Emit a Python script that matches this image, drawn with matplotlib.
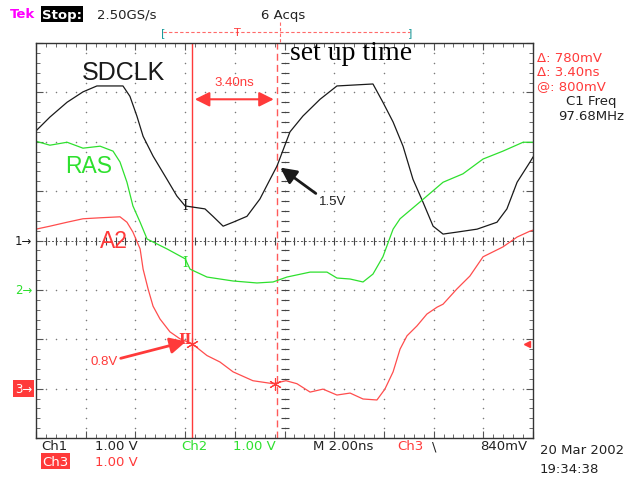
import numpy as np
import matplotlib
matplotlib.use('Agg')
from matplotlib import pyplot as plt

# time in ns (2 ns/div, 10 div), level in screen divisions (1 V/div)
sdclk_t = [0, 0.56, 1.25, 1.89, 2.45, 3.50, 3.78, 4.06, 4.31, 4.71, 5.27, 5.67, 6.00, 6.80, 7.12,
           7.53, 7.93, 8.49, 9.01, 9.42, 9.70, 10.22, 10.74, 11.43, 12.11, 13.56, 13.96, 14.37,
           14.77, 15.17, 15.57, 15.98, 16.38, 16.94, 17.75, 18.55, 18.95, 19.36, 19.88, 20.0]
sdclk_v = [2.22, 2.50, 2.80, 3.01, 3.13, 3.13, 2.92, 2.52, 2.11, 1.71, 1.24, 0.90, 0.70, 0.64, 0.49,
           0.29, 0.37, 0.49, 0.84, 1.24, 1.51, 2.20, 2.52, 2.86, 3.13, 3.17, 2.80, 2.40,
           1.91, 1.24, 0.78, 0.29, 0.13, 0.17, 0.23, 0.37, 0.64, 1.18, 1.59, 1.69]

ras_t = [0, 0.56, 1.25, 1.89, 2.58, 3.10, 3.38, 3.66, 3.90, 4.19, 4.47, 5.27, 6.00, 6.20, 6.88,
         7.93, 8.89, 9.54, 10.10, 11.03, 11.71, 12.11, 12.64, 13.16, 13.56, 13.96, 14.37, 14.65,
         15.45, 16.38, 17.18, 17.99, 18.79, 19.60, 20.0]
ras_v = [2.01, 1.93, 1.99, 1.87, 1.91, 1.81, 1.59, 1.18, 0.70, 0.37, 0.03, -0.17, -0.37, -0.58, -0.74,
         -0.82, -0.86, -0.84, -0.74, -0.64, -0.64, -0.76, -0.78, -0.84, -0.68, -0.33, 0.23, 0.44,
         0.78, 1.18, 1.35, 1.65, 1.81, 1.99, 1.99]

a2_t = [0, 0.56, 1.25, 1.89, 2.58, 3.38, 3.66, 3.90, 4.19, 4.31, 4.51, 4.71, 4.99, 5.39, 5.79,
        6.28, 6.88, 7.40, 7.93, 8.73, 9.54, 10.06, 10.50, 11.03, 11.55, 12.11, 12.64, 13.16,
        13.72, 14.04, 14.37, 14.65, 14.93, 15.33, 15.73, 16.14, 16.38, 16.94, 17.46, 17.99,
        18.79, 19.36, 19.88, 20.0]
a2_v = [0.23, 0.29, 0.37, 0.44, 0.46, 0.48, 0.37, 0.17, -0.17, -0.58, -0.98, -1.33, -1.59, -1.85, -1.99,
        -2.09, -2.33, -2.46, -2.66, -2.84, -2.90, -2.84, -2.90, -3.07, -3.01, -3.13, -3.09, -3.21,
        -3.23, -3.01, -2.66, -2.20, -1.93, -1.73, -1.49, -1.35, -1.29, -0.98, -0.72, -0.33,
        -0.13, 0.07, 0.19, 0.21]

cursor1_t = 6.28
cursor2_t = 9.68
ch_levels = [0, -1, -3]   # ground markers ch1, ch2, ch3
trig_level = -2.1

BLACK = '#1a1a1a'
GREEN = '#2ee02e'
RED = '#ff3a3a'
GREY = '#7a7a7a'

fig = plt.figure(figsize=(6.44, 4.81), dpi=100)
ax = fig.add_axes([36 / 644, 42 / 481, 497 / 644, 395 / 481])
ax.set_xlim(0, 20)
ax.set_ylim(-4, 4)

# graticule dots
for xg in np.arange(2, 20, 2):
    ys = np.arange(-4, 4.01, 0.2)
    ax.plot([xg] * len(ys), ys, ls='none', marker='o', ms=1.1, color=GREY, mec='none')
for yg in np.arange(-3, 4, 1):
    xs = np.arange(0, 20.01, 0.4)
    ax.plot(xs, [yg] * len(xs), ls='none', marker='o', ms=1.1, color=GREY, mec='none')
# center axes with crosses
xs = np.arange(0, 20.01, 0.4)
ax.plot(xs, [0] * len(xs), ls='none', marker='|', ms=6, mew=0.8, color='#444')
ax.plot([0, 20], [0, 0], ls=(0, (2, 2)), lw=0.7, color='#555')
ys = np.arange(-4, 4.01, 0.2)
ax.plot([10] * len(ys), ys, ls='none', marker='_', ms=6, mew=0.8, color='#444')

for s in ax.spines.values():
    s.set_color('#333')
    s.set_linewidth(1.0)
ax.set_xticks(np.arange(0, 20.01, 2))
ax.set_xticks(np.arange(0, 20.01, 0.4), minor=True)
ax.set_yticks(np.arange(-4, 4.01, 1))
ax.set_yticks(np.arange(-4, 4.01, 0.2), minor=True)
ax.tick_params(which='both', direction='in', top=True, right=True, labelbottom=False,
               labelleft=False, color='#555')
ax.tick_params(which='major', length=5, width=0.8)
ax.tick_params(which='minor', length=3, width=0.6)

# cursors
ax.axvline(cursor1_t, color=RED, lw=1.0)
ax.axvline(cursor2_t, color='#ff5a5a', lw=1.0, ls=(0, (5, 3)))

# traces
ax.plot(sdclk_t, sdclk_v, color=BLACK, lw=0.9)
ax.plot(ras_t, ras_v, color=GREEN, lw=0.9)
ax.plot(a2_t, a2_v, color='#ff4d4d', lw=0.9)

# cursor readout markers
ax.text(6.0, 0.72, 'I', color=BLACK, family='DejaVu Serif', fontsize=10, ha='center', va='center')
ax.text(6.0, -0.44, 'I', color=GREEN, family='DejaVu Serif', fontsize=10, ha='center', va='center')
ax.text(6.0, -2.0, 'II', color=RED, family='DejaVu Serif', fontsize=10, ha='center', va='center',
        fontweight='bold')
ax.plot([cursor1_t, 9.6], [-2.09, -2.90], ls='none', marker=(6, 2, 0), ms=9, mew=0.8, color=RED)

# labels
ax.text(1.85, 3.41, 'SDCLK', color=BLACK, family='Liberation Sans', fontsize=18, va='center')
ax.text(1.17, 1.51, 'RAS', color=GREEN, family='Liberation Sans', fontsize=16.5, va='center')
ax.text(2.58, -0.01, 'A2', color=RED, family='Liberation Sans', fontsize=16.5, va='center')

ax.annotate('', xy=(cursor1_t, 2.86), xytext=(cursor2_t, 2.86),
            arrowprops=dict(arrowstyle='<|-|>', color=RED, lw=1.5, mutation_scale=22))
ax.text(8.0, 3.21, '3.40ns', color=RED, family='Liberation Sans', fontsize=9.5,
        ha='center', va='center')

ax.annotate('', xy=(9.74, 1.51), xytext=(11.35, 0.92),
            arrowprops=dict(arrowstyle='-|>', color=BLACK, lw=2, mutation_scale=24))
ax.text(11.38, 0.80, '1.5V', color='#222', family='Liberation Sans', fontsize=9.5, va='center')

ax.annotate('', xy=(6.15, -2.03), xytext=(3.3, -2.40),
            arrowprops=dict(arrowstyle='-|>', color=RED, lw=2, mutation_scale=24))
ax.text(3.28, -2.44, '0.8V', color=RED, family='Liberation Sans', fontsize=9.5,
        ha='right', va='center')

# channel ground markers
ax.text(-0.15, ch_levels[0], '1\u2192', color=BLACK, fontsize=8.5, ha='right', va='center')
ax.text(-0.15, ch_levels[1], '2\u2192', color=GREEN, fontsize=8.5, ha='right', va='center')
ax.text(-0.15, ch_levels[2], '3\u2192', color='white', fontsize=8.5, ha='right', va='center',
        bbox=dict(boxstyle='square,pad=0.15', fc=RED, ec='none'))
ax.plot([19.75], [trig_level], marker='<', ms=5, color=RED, clip_on=False)

# header
fs = 9.5
fig.text(10 / 644, 1 - 15 / 481, 'Tek', color='#ff00ff', fontsize=fs, fontweight='bold', va='center')
fig.text(42 / 644, 1 - 15 / 481, 'Stop:', color='white', fontsize=fs, fontweight='bold', va='center',
         bbox=dict(boxstyle='square,pad=0.1', fc='black', ec='none'))
fig.text(97 / 644, 1 - 15 / 481, '2.50GS/s', color='#222', fontsize=fs, va='center')
fig.text(261 / 644, 1 - 15 / 481, '6 Acqs', color='#222', fontsize=fs, va='center')

bar_y = 1 - 33 / 481
fig.add_artist(plt.Line2D([163 / 644, 410 / 644], [bar_y, bar_y], color='#ff6a6a', lw=0.8,
                          ls=(0, (3, 2))))
fig.text(163 / 644, bar_y, '[', color='#1a9a9a', fontsize=8, ha='center', va='center')
fig.text(410 / 644, bar_y, ']', color='#1a9a9a', fontsize=8, ha='center', va='center')
fig.text(237 / 644, bar_y, 'T', color=RED, fontsize=8, ha='center', va='center')
fig.add_artist(plt.Line2D([280 / 644, 280 / 644], [1 - 23 / 481, 1 - 44 / 481], color='#ff6a6a',
                          lw=0.8, ls=(0, (3, 2))))

fig.text(290 / 644, 1 - 60 / 481, 'set up time', color='black', family='Liberation Serif',
         fontsize=20, va='baseline')

# right readout
fig.text(537 / 644, 1 - 58 / 481, '\u0394: 780mV', color=RED, fontsize=fs, va='center')
fig.text(537 / 644, 1 - 73 / 481, '\u0394: 3.40ns', color=RED, fontsize=fs, va='center')
fig.text(537 / 644, 1 - 87 / 481, '@: 800mV', color=RED, fontsize=fs, va='center')
fig.text(591 / 644, 1 - 102 / 481, 'C1 Freq', color='#222', fontsize=fs, ha='center', va='center')
fig.text(591 / 644, 1 - 117 / 481, '97.68MHz', color='#222', fontsize=fs, ha='center', va='center')

# footer
row1 = 1 - 447 / 481
row2 = 1 - 462 / 481
fig.text(41 / 644, row1, 'Ch1', color='#222', fontsize=fs, va='center')
fig.text(95 / 644, row1, '1.00 V', color='#222', fontsize=fs, va='center')
fig.text(181 / 644, row1, 'Ch2', color=GREEN, fontsize=fs, va='center')
fig.text(233 / 644, row1, '1.00 V', color=GREEN, fontsize=fs, va='center')
fig.text(313 / 644, row1, 'M 2.00ns', color='#222', fontsize=fs, va='center')
fig.text(397 / 644, row1, 'Ch3', color=RED, fontsize=fs, va='center')
fig.text(432 / 644, row1, '\\', color='#222', fontsize=fs, va='center')
fig.text(480 / 644, row1, '840mV', color='#222', fontsize=fs, va='center')
fig.text(42 / 644, row2, 'Ch3', color='white', fontsize=fs, va='center',
         bbox=dict(boxstyle='square,pad=0.1', fc=RED, ec='none'))
fig.text(95 / 644, row2, '1.00 V', color=RED, fontsize=fs, va='center')
fig.text(540 / 644, 1 - 451 / 481, '20 Mar 2002', color='#222', fontsize=fs, va='center')
fig.text(540 / 644, 1 - 470 / 481, '19:34:38', color='#222', fontsize=fs, va='center')

fig.savefig('out.png', dpi=100)
